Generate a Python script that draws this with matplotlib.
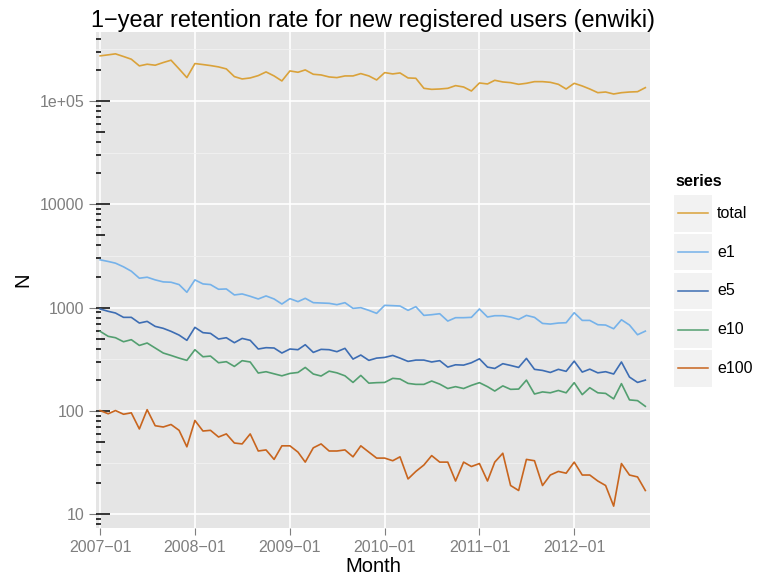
import numpy as np
import pandas as pd
import matplotlib
matplotlib.use('Agg')
import matplotlib.pyplot as plt
from matplotlib.transforms import blended_transform_factory
from matplotlib.ticker import FixedLocator, NullFormatter
from matplotlib.lines import Line2D
from matplotlib.patches import Rectangle

plt.rcParams['font.family'] = ['Liberation Sans', 'DejaVu Sans']

# ---------------- data ----------------
months = pd.date_range('2007-01-01', periods=70, freq='MS')

total = [273800, 280000, 286300, 269800, 254100, 218900, 227200, 222200, 235900, 248500,
         204700, 168600, 230600, 225500, 220500, 214000, 204700, 172400, 163600, 167300,
         176300, 191400, 175000, 156500, 195700, 189900, 200100, 181600, 178900, 171100,
         168600, 175000, 175000, 184400, 175000, 160000, 188500, 183000, 187100, 167300,
         166100, 132800, 129800, 130800, 132800, 141000, 136800, 125100, 149600, 146300,
         158800, 153000, 150700, 145200, 148500, 154100, 154100, 151800, 145200, 130800,
         148500, 139900, 130800, 120500, 122300, 117000, 120500, 122300, 123200, 134800]

e1 = [2906, 2800, 2697, 2485, 2255, 1928, 1972, 1858, 1776, 1763,
      1673, 1410, 1858, 1698, 1673, 1507, 1518, 1328, 1358, 1289,
      1214, 1299, 1214, 1085, 1223, 1144, 1232, 1118, 1110, 1102,
      1069, 1118, 985, 1000, 942, 881, 1054, 1046, 1038, 942,
      1023, 842, 855, 874, 742, 800, 800, 806, 971, 812,
      836, 836, 812, 770, 842, 806, 704, 694, 710, 715,
      894, 753, 753, 684, 679, 625, 764, 679, 547, 593]

e5 = [971, 922, 888, 806, 806, 710, 737, 659, 631, 590,
      543, 483, 645, 573, 564, 497, 512, 458, 504, 483,
      398, 410, 407, 364, 398, 392, 438, 369, 395, 392,
      375, 404, 318, 348, 309, 325, 330, 345, 325, 302,
      311, 311, 298, 307, 266, 280, 278, 293, 320, 266,
      258, 287, 276, 264, 323, 253, 247, 236, 253, 242,
      304, 238, 254, 234, 240, 228, 298, 213, 189, 199]

e10 = [590, 528, 512, 468, 490, 431, 455, 407, 364, 345,
       325, 309, 392, 335, 340, 293, 300, 270, 307, 298,
       233, 240, 229, 219, 231, 236, 264, 228, 218, 243,
       234, 219, 189, 221, 186, 188, 189, 207, 204, 185,
       181, 181, 195, 182, 165, 172, 165, 177, 188, 172,
       156, 175, 162, 163, 199, 146, 153, 150, 158, 150,
       188, 144, 168, 150, 148, 131, 184, 128, 126, 111]

e100 = [101, 94, 101, 93, 96, 67, 103, 72, 70, 74,
        65, 45, 81, 64, 65, 56, 60, 49, 48, 60,
        41, 42, 34, 46, 46, 40, 32, 44, 48, 41,
        41, 42, 36, 46, 40, 35, 35, 33, 36, 22,
        26, 30, 37, 32, 32, 21, 32, 29, 31, 21,
        32, 39, 19, 17, 34, 33, 19, 24, 26, 25,
        32, 24, 24, 21, 19, 12, 31, 24, 23, 17]

series_names = ['total', 'e1', 'e5', 'e10', 'e100']
series_values = [total, e1, e5, e10, e100]
series_colors = ['#DAA23A', '#75B2EA', '#3D6DB3', '#539F70', '#C8651E']

x_tick_dates = pd.to_datetime(['2007-01-01', '2008-01-01', '2009-01-01',
                               '2010-01-01', '2011-01-01', '2012-01-01'])
x_tick_labels = ['2007\u221201', '2008\u221201', '2009\u221201',
                 '2010\u221201', '2011\u221201', '2012\u221201']
y_ticks = [10, 100, 1000, 10000, 100000]
y_tick_labels = ['10', '100', '1000', '10000', '1e+05']

title = '1\u2212year retention rate for new registered users (enwiki)'

# ---------------- layout ----------------
W, H = 757, 577
fig = plt.figure(figsize=(W / 100, H / 100), dpi=100)
fig.patch.set_facecolor('white')

def fx(px):
    return px / W

def fy(py):
    return 1 - py / H

L, R, T, B = 96, 650, 31.7, 528
ax = fig.add_axes([fx(L), fy(B), fx(R) - fx(L), fy(T) - fy(B)])
ax.set_facecolor('#E5E5E5')
ax.set_yscale('log')
ax.set_ylim(7.37, 4.69e5)
ax.set_xlim(months[0] - pd.Timedelta(days=16), months[-1] + pd.Timedelta(days=18))

for s in ax.spines.values():
    s.set_visible(False)

ax.yaxis.set_major_locator(FixedLocator(y_ticks))
ax.set_yticklabels(y_tick_labels)
ax.yaxis.set_minor_locator(FixedLocator([10 ** (k + 0.5) for k in range(0, 6)]))
ax.yaxis.set_minor_formatter(NullFormatter())
ax.set_xticks(x_tick_dates)
ax.set_xticklabels(x_tick_labels)
ax.xaxis.set_minor_locator(FixedLocator([]))

ax.tick_params(which='major', color='#7F7F7F', length=5, width=0.8,
               labelcolor='#7F7F7F', labelsize=11.5, pad=3.5)
ax.tick_params(which='minor', length=0)

ax.grid(which='major', color='white', linewidth=1.2)
ax.grid(which='minor', axis='y', color='#F2F2F2', linewidth=0.6)
ax.set_axisbelow(True)

# log ticks (annotation_logticks style)
ax_w_px = R - L
btrans = blended_transform_factory(ax.transAxes, ax.transData)
for k in range(0, 6):
    for m in range(1, 10):
        v = m * 10 ** k
        if v < 7.37 or v > 4.69e5:
            continue
        ln = 14 if m == 1 else (9.4 if m == 5 else 4.7)
        ax.plot([0, ln / ax_w_px], [v, v], transform=btrans, color='black',
                lw=1.1, solid_capstyle='butt', zorder=3)

for name, vals, col in zip(series_names, series_values, series_colors):
    ax.plot(months, vals, color=col, lw=1.2, zorder=4, label=name)

# titles
fig.text(fx((L + R) / 2), fy(27), title, ha='center', va='baseline',
         fontsize=16.9, color='black')
fig.text(fx((L + R) / 2), fy(567), 'Month', ha='center', va='center',
         fontsize=14.5, color='black')
fig.text(fx(22.7), fy((T + B) / 2), 'N', ha='center', va='center',
         rotation=90, fontsize=14.5, color='black')

# legend (ggplot style)
fig.text(fx(675), fy(181), 'series', ha='left', va='center',
         fontsize=11.7, fontweight='bold', color='black')
for j, (name, col) in enumerate(zip(series_names, series_colors)):
    top = 195 + j * 38.75
    h = 36.7
    fig.add_artist(Rectangle((fx(674), fy(top + h)), fx(712) - fx(674), fy(top) - fy(top + h),
                             transform=fig.transFigure, facecolor='#F2F2F2',
                             edgecolor='none'))
    cy = top + h / 2
    fig.add_artist(Line2D([fx(678), fx(708)], [fy(cy), fy(cy)],
                          transform=fig.transFigure, color=col, lw=1.1))
    fig.text(fx(717), fy(cy), name, ha='left', va='center',
             fontsize=11.5, color='black')

fig.savefig('out.png', dpi=100)
